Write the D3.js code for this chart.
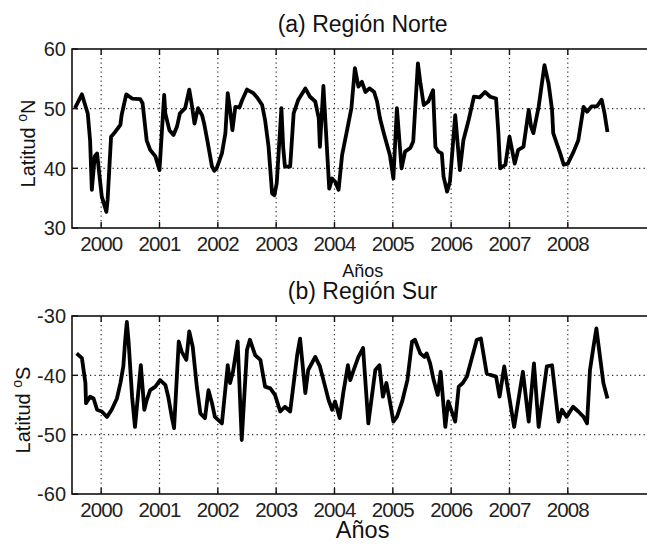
<!DOCTYPE html>
<meta charset="utf-8">
<script src="https://d3js.org/d3.v7.min.js"></script>
<style>
  body { margin: 0; background: #fff; }
  text { font-family: "Liberation Sans", Arial, sans-serif; fill: #111; }
</style>
<div id="chart"></div>
<script>
  // data (decimal year, latitude)
  const northYears = [1999.55, 1999.67, 1999.77, 1999.81, 1999.84, 1999.89, 1999.93, 1999.98, 2000.01, 2000.09,
    2000.11, 2000.17, 2000.24, 2000.33, 2000.35, 2000.43, 2000.53, 2000.67, 2000.71, 2000.78,
    2000.84, 2000.93, 2001.00, 2001.08, 2001.10, 2001.17, 2001.24, 2001.30, 2001.35, 2001.44,
    2001.51, 2001.55, 2001.60, 2001.66, 2001.73, 2001.77, 2001.82, 2001.90, 2001.94, 2001.98,
    2002.07, 2002.13, 2002.17, 2002.21, 2002.25, 2002.30, 2002.37, 2002.42, 2002.50, 2002.61,
    2002.68, 2002.76, 2002.81, 2002.87, 2002.93, 2002.97, 2003.01, 2003.09, 2003.12, 2003.15,
    2003.24, 2003.30, 2003.38, 2003.50, 2003.58, 2003.67, 2003.73, 2003.75, 2003.81, 2003.91,
    2003.96, 2004.01, 2004.07, 2004.13, 2004.21, 2004.29, 2004.35, 2004.41, 2004.47, 2004.53,
    2004.60, 2004.68, 2004.73, 2004.78, 2004.84, 2004.95, 2005.01, 2005.07, 2005.15, 2005.21,
    2005.30, 2005.35, 2005.43, 2005.47, 2005.53, 2005.61, 2005.69, 2005.73, 2005.78, 2005.84,
    2005.87, 2005.93, 2005.98, 2006.07, 2006.15, 2006.21, 2006.30, 2006.39, 2006.49, 2006.58,
    2006.67, 2006.77, 2006.81, 2006.84, 2006.93, 2007.00, 2007.09, 2007.15, 2007.24, 2007.33,
    2007.37, 2007.41, 2007.50, 2007.60, 2007.67, 2007.73, 2007.75, 2007.81, 2007.87, 2007.93,
    2008.00, 2008.10, 2008.18, 2008.27, 2008.33, 2008.41, 2008.50, 2008.58, 2008.63, 2008.68];
  const northLat = [50.1, 52.4, 49.2, 44.7, 36.4, 42.0, 42.5, 38.0, 35.3, 32.7,
    34.7, 45.3, 46.1, 47.3, 48.9, 52.4, 51.7, 51.6, 50.9, 44.7,
    43.1, 42.0, 39.7, 52.3, 49.2, 46.4, 45.6, 47.0, 49.2, 50.1,
    53.2, 50.9, 47.5, 50.1, 48.9, 47.3, 44.7, 40.3, 39.6, 40.0,
    42.5, 45.9, 52.6, 49.8, 46.4, 50.3, 50.2, 51.5, 53.2, 52.6,
    51.8, 50.6, 48.1, 43.6, 35.8, 35.5, 37.5, 50.1, 43.6, 40.3,
    40.3, 49.2, 51.5, 53.4, 52.0, 51.2, 48.4, 43.6, 53.8, 36.6,
    38.3, 37.8, 36.4, 42.2, 46.1, 50.1, 56.8, 53.7, 54.5, 52.8,
    53.4, 52.8, 51.2, 48.4, 46.1, 42.2, 38.3, 50.1, 40.0, 42.8,
    43.4, 44.5, 57.6, 54.5, 50.6, 51.2, 53.1, 43.6, 42.8, 42.5,
    38.6, 36.1, 37.8, 48.9, 39.7, 44.7, 48.1, 52.0, 51.9, 52.8,
    52.0, 51.7, 45.9, 40.0, 40.6, 45.3, 40.8, 43.1, 43.6, 49.8,
    47.0, 45.9, 50.3, 57.3, 54.2, 49.8, 45.9, 44.2, 42.5, 40.6,
    40.8, 42.8, 44.7, 50.3, 49.5, 50.4, 50.4, 51.5, 49.2, 46.1];

  const southYears = [1999.58, 1999.67, 1999.73, 1999.74, 1999.81, 1999.87, 1999.93, 2000.01, 2000.10, 2000.18,
    2000.27, 2000.33, 2000.38, 2000.41, 2000.44, 2000.47, 2000.53, 2000.58, 2000.68, 2000.74,
    2000.78, 2000.84, 2000.93, 2001.01, 2001.10, 2001.15, 2001.21, 2001.25, 2001.33, 2001.38,
    2001.46, 2001.51, 2001.57, 2001.64, 2001.70, 2001.78, 2001.84, 2001.90, 2001.95, 2002.07,
    2002.17, 2002.21, 2002.26, 2002.34, 2002.41, 2002.50, 2002.55, 2002.64, 2002.73, 2002.81,
    2002.90, 2002.98, 2003.07, 2003.15, 2003.24, 2003.36, 2003.41, 2003.50, 2003.55, 2003.67,
    2003.75, 2003.84, 2003.90, 2003.96, 2004.01, 2004.09, 2004.15, 2004.23, 2004.27, 2004.33,
    2004.41, 2004.49, 2004.58, 2004.70, 2004.77, 2004.83, 2004.89, 2004.94, 2005.01, 2005.07,
    2005.16, 2005.25, 2005.33, 2005.38, 2005.47, 2005.54, 2005.58, 2005.64, 2005.70, 2005.77,
    2005.82, 2005.90, 2005.95, 2006.07, 2006.13, 2006.20, 2006.27, 2006.36, 2006.44, 2006.51,
    2006.61, 2006.70, 2006.77, 2006.83, 2006.91, 2007.08, 2007.23, 2007.33, 2007.42, 2007.50,
    2007.64, 2007.73, 2007.84, 2007.90, 2007.98, 2008.09, 2008.18, 2008.27, 2008.33, 2008.38,
    2008.44, 2008.49, 2008.53, 2008.61, 2008.68];
  const southLat = [-36.3, -37.1, -41.3, -44.7, -43.6, -43.9, -45.8, -46.1, -47.0, -45.8,
    -43.9, -41.3, -38.5, -34.3, -31.0, -34.3, -43.6, -48.7, -38.3, -45.8,
    -44.2, -42.5, -41.9, -40.8, -41.6, -43.6, -47.0, -48.9, -34.3, -36.0,
    -37.4, -32.6, -35.2, -41.9, -46.4, -47.2, -42.5, -44.7, -47.0, -48.1,
    -38.3, -41.3, -39.4, -34.3, -50.9, -35.7, -34.0, -36.6, -37.4, -41.9,
    -42.2, -43.3, -46.1, -45.3, -46.1, -36.6, -33.8, -43.0, -39.1, -36.9,
    -38.5, -41.9, -44.2, -45.8, -44.4, -47.2, -43.0, -38.3, -40.8, -39.1,
    -36.9, -35.4, -48.1, -39.1, -38.3, -43.6, -41.3, -43.9, -47.8, -47.0,
    -44.4, -40.8, -34.3, -34.0, -36.3, -36.9, -36.3, -38.0, -40.8, -43.3,
    -39.4, -48.7, -44.4, -47.8, -41.9, -41.3, -40.2, -36.9, -34.0, -33.8,
    -39.7, -40.0, -40.2, -43.6, -38.5, -48.7, -39.4, -47.8, -38.0, -48.7,
    -38.5, -38.3, -47.8, -45.8, -47.0, -45.3, -46.1, -47.0, -48.1, -39.1,
    -35.2, -32.1, -35.2, -41.3, -43.9];

  const yearTicks = [2000, 2001, 2002, 2003, 2004, 2005, 2006, 2007, 2008];
  const northTicks = [30, 40, 50, 60];
  const southTicks = [-60, -50, -40, -30];

  const W = 647, H = 550;
  const svg = d3.select("#chart").append("svg")
    .attr("width", W).attr("height", H);

  // the axes run past the right edge of the picture
  const x = d3.scaleLinear().domain([1999.5, 2009.5]).range([72, 655.3]);

  function panel(opt) {
    const top = opt.top, bottom = opt.bottom, yTicks = opt.ticks;
    const y = d3.scaleLinear().domain([yTicks[0], yTicks[yTicks.length - 1]]).range([bottom, top]);
    const g = svg.append("g");
    const x0 = x.range()[0], x1 = x.range()[1];

    // dotted grid
    g.selectAll(".vgrid").data(yearTicks).enter().append("line")
      .attr("x1", d => x(d)).attr("x2", d => x(d))
      .attr("y1", top).attr("y2", bottom)
      .attr("stroke", "#333").attr("stroke-width", 1.2)
      .attr("stroke-dasharray", "1.3,3.2");
    g.selectAll(".hgrid").data(yTicks.slice(1, -1)).enter().append("line")
      .attr("x1", x0).attr("x2", x1)
      .attr("y1", d => y(d)).attr("y2", d => y(d))
      .attr("stroke", "#333").attr("stroke-width", 1.2)
      .attr("stroke-dasharray", "1.3,3.2");

    // series
    const line = d3.line().x(d => x(d[0])).y(d => y(d[1]));
    g.append("path")
      .datum(opt.years.map((t, i) => [t, opt.lats[i]]))
      .attr("d", line)
      .attr("fill", "none")
      .attr("stroke", "#000")
      .attr("stroke-width", 3.8)
      .attr("stroke-linejoin", "round");

    // inward ticks
    g.selectAll(".xt").data(yearTicks).enter().append("path")
      .attr("d", d => `M${x(d)},${bottom}v-6M${x(d)},${top}v6`)
      .attr("stroke", "#111").attr("stroke-width", 1.4);
    g.selectAll(".yt").data(yTicks).enter().append("path")
      .attr("d", d => `M${x0},${y(d)}h6`)
      .attr("stroke", "#111").attr("stroke-width", 1.4);

    // box
    g.append("rect")
      .attr("x", x0).attr("y", top)
      .attr("width", x1 - x0).attr("height", bottom - top)
      .attr("fill", "none").attr("stroke", "#111").attr("stroke-width", 1.6);

    // tick labels
    g.selectAll(".xl").data(yearTicks).enter().append("text")
      .attr("x", d => x(d)).attr("y", bottom + 23)
      .attr("text-anchor", "middle")
      .style("font-size", "20.5px").style("letter-spacing", "-0.9px")
      .style("fill", "#222")
      .text(d => d);
    g.selectAll(".yl").data(yTicks).enter().append("text")
      .attr("x", x0 - 6).attr("y", d => y(d))
      .attr("dy", "0.36em")
      .attr("text-anchor", "end")
      .style("font-size", "20px")
      .style("fill", "#222")
      .text(d => d);

    // title
    g.append("text")
      .attr("x", (x0 + x1) / 2 - 1).attr("y", opt.titleY)
      .attr("text-anchor", "middle")
      .style("font-size", "23px")
      .text(opt.title);

    // y label
    const yl = g.append("text")
      .attr("transform", `translate(${opt.ylabX},${(top + bottom) / 2 + 5}) rotate(-90)`)
      .attr("text-anchor", "middle")
      .style("font-size", "20px");
    yl.append("tspan").text("Latitud ");
    yl.append("tspan").text("o").style("font-size", "14px").attr("dy", "-8");
    yl.append("tspan").text(opt.unit).attr("dy", "8");

    // x label
    g.append("text")
      .attr("x", (x0 + x1) / 2 - 1).attr("y", opt.xlabY)
      .attr("text-anchor", "middle")
      .style("font-size", opt.xlabSize + "px")
      .text("Años");
  }

  panel({ top: 49, bottom: 228, ticks: northTicks, years: northYears, lats: northLat,
    title: "(a) Región Norte", titleY: 32, unit: "N", ylabX: 35, xlabSize: 18, xlabY: 277 });
  panel({ top: 316, bottom: 494, ticks: southTicks, years: southYears, lats: southLat,
    title: "(b) Región Sur", titleY: 299, unit: "S", ylabX: 30, xlabSize: 23.5, xlabY: 538 });
</script>
